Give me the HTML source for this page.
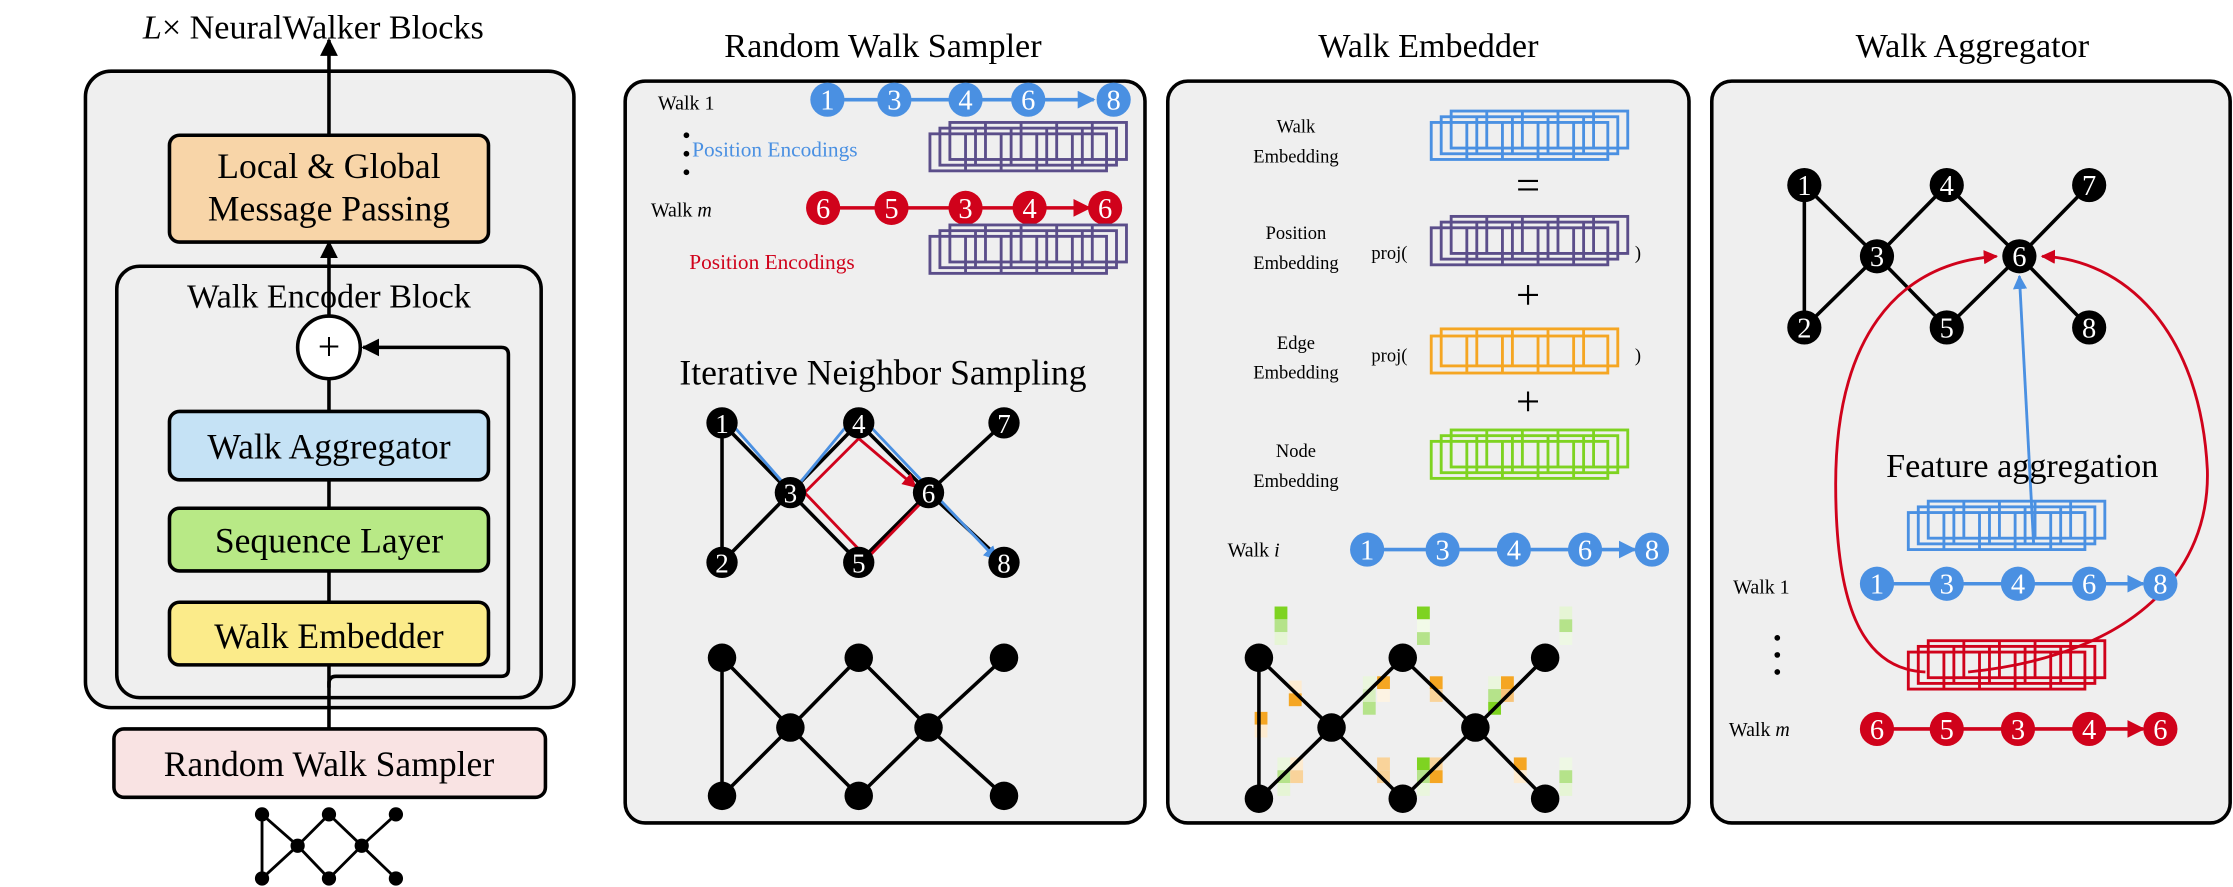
<!DOCTYPE html>
<html><head><meta charset="utf-8"><style>
html,body{margin:0;padding:0;background:#fff}
svg{display:block}
text{font-family:"Liberation Serif",serif}
</style></head><body>
<svg width="2233" height="887" viewBox="0 0 1568 623" preserveAspectRatio="none" xmlns="http://www.w3.org/2000/svg">
<defs>
<g id="cells" fill="none" stroke-width="2">
<rect x="0" y="0" width="124" height="26"/>
<line x1="25" y1="0" x2="25" y2="26"/><line x1="50" y1="0" x2="50" y2="26"/><line x1="75" y1="0" x2="75" y2="26"/><line x1="100" y1="0" x2="100" y2="26"/>
</g>
<g id="stk"><use href="#cells" x="14" y="0"/><use href="#cells" x="7" y="4"/><use href="#cells" x="0" y="8"/></g>
<marker id="ab" viewBox="0 0 10 10" refX="9" refY="5" markerWidth="5" markerHeight="5" orient="auto"><path d="M0,0L10,5L0,10z" fill="#000"/></marker>
<marker id="abl" viewBox="0 0 10 10" refX="9" refY="5" markerWidth="5" markerHeight="5" orient="auto"><path d="M0,0L10,5L0,10z" fill="#4a90e2"/></marker>
<marker id="ar" viewBox="0 0 10 10" refX="9" refY="5" markerWidth="5" markerHeight="5" orient="auto"><path d="M0,0L10,5L0,10z" fill="#d0021b"/></marker>
</defs>

<!-- LEFT PANEL -->
<text x="220" y="27" font-size="24" text-anchor="middle"><tspan font-style="italic">L</tspan>× NeuralWalker Blocks</text>
<rect x="60" y="50" width="343" height="447" rx="18" fill="#efefef" stroke="#000" stroke-width="2.5"/>
<line x1="231" y1="95" x2="231" y2="28" stroke="#000" stroke-width="2.5" marker-end="url(#ab)"/>
<rect x="82" y="187" width="298" height="303" rx="16" fill="#efefef" stroke="#000" stroke-width="2.5"/>
<text x="231" y="216" font-size="24" text-anchor="middle">Walk Encoder Block</text>
<line x1="231" y1="187" x2="231" y2="170" stroke="#000" stroke-width="2.5" marker-end="url(#ab)"/>
<line x1="231" y1="187" x2="231" y2="222" stroke="#000" stroke-width="2.5"/>
<rect x="119" y="95" width="224" height="75" rx="7" fill="#f8d5a8" stroke="#000" stroke-width="2.5"/>
<text x="231" y="125" font-size="25" text-anchor="middle">Local &amp; Global</text>
<text x="231" y="155" font-size="25" text-anchor="middle">Message Passing</text>
<line x1="231" y1="266" x2="231" y2="512" stroke="#000" stroke-width="2.5"/>
<path d="M231,483 L231,480 Q231,475 236,475 L352,475 Q357,475 357,470 L357,249 Q357,244 352,244 L255,244" fill="none" stroke="#000" stroke-width="2.5" marker-end="url(#ab)"/>
<circle cx="231" cy="244" r="22" fill="#fff" stroke="#000" stroke-width="2.5"/>
<text x="231" y="253" font-size="28" text-anchor="middle">+</text>
<rect x="119" y="289" width="224" height="48" rx="7" fill="#c5e2f5" stroke="#000" stroke-width="2.5"/>
<text x="231" y="322" font-size="25" text-anchor="middle">Walk Aggregator</text>
<rect x="119" y="357" width="224" height="44" rx="7" fill="#b8e986" stroke="#000" stroke-width="2.5"/>
<text x="231" y="388" font-size="25" text-anchor="middle">Sequence Layer</text>
<rect x="119" y="423" width="224" height="44" rx="7" fill="#fbeb8a" stroke="#000" stroke-width="2.5"/>
<text x="231" y="455" font-size="25" text-anchor="middle">Walk Embedder</text>
<rect x="80" y="512" width="303" height="48" rx="7" fill="#f9e3e3" stroke="#000" stroke-width="2.5"/>
<text x="231" y="545" font-size="25" text-anchor="middle">Random Walk Sampler</text>
<g stroke="#000" stroke-width="2">
<line x1="184" y1="572" x2="184" y2="617"/><line x1="184" y1="572" x2="209" y2="594"/><line x1="209" y1="594" x2="231" y2="572"/><line x1="231" y1="572" x2="254" y2="594"/><line x1="254" y1="594" x2="278" y2="572"/>
<line x1="184" y1="617" x2="209" y2="594"/><line x1="209" y1="594" x2="231" y2="617"/><line x1="231" y1="617" x2="254" y2="594"/><line x1="254" y1="594" x2="278" y2="617"/>
</g>
<g fill="#000"><circle cx="184" cy="572" r="5"/><circle cx="231" cy="572" r="5"/><circle cx="278" cy="572" r="5"/><circle cx="209" cy="594" r="5"/><circle cx="254" cy="594" r="5"/><circle cx="184" cy="617" r="5"/><circle cx="231" cy="617" r="5"/><circle cx="278" cy="617" r="5"/></g>

<!-- PANEL 2 -->
<text x="620" y="40" font-size="24" text-anchor="middle">Random Walk Sampler</text>
<rect x="439" y="57" width="365" height="521" rx="14" fill="#efefef" stroke="#000" stroke-width="2.5"/>
<text x="462" y="77" font-size="14">Walk 1</text>
<g stroke="#4a90e2" stroke-width="2.5"><line x1="581" y1="70" x2="768" y2="70" marker-end="url(#abl)"/></g>
<g fill="#4a90e2"><circle cx="581" cy="70" r="12"/><circle cx="628" cy="70" r="12"/><circle cx="678" cy="70" r="12"/><circle cx="722" cy="70" r="12"/><circle cx="782" cy="70" r="12"/></g>
<g fill="#fff" font-size="20" text-anchor="middle"><text x="581" y="77">1</text><text x="628" y="77">3</text><text x="678" y="77">4</text><text x="722" y="77">6</text><text x="782" y="77">8</text></g>
<g fill="#000"><circle cx="482" cy="95" r="2"/><circle cx="482" cy="108" r="2"/><circle cx="482" cy="121" r="2"/></g>
<text x="486" y="110" font-size="15" fill="#4a90e2">Position Encodings</text>
<use href="#stk" x="653" y="86" stroke="#5b4e8a"/>
<text x="457" y="152" font-size="14">Walk <tspan font-style="italic">m</tspan></text>
<line x1="578" y1="146" x2="765" y2="146" stroke="#d0021b" stroke-width="2.5" marker-end="url(#ar)"/>
<g fill="#d0021b"><circle cx="578" cy="146" r="12"/><circle cx="626" cy="146" r="12"/><circle cx="678" cy="146" r="12"/><circle cx="723" cy="146" r="12"/><circle cx="776" cy="146" r="12"/></g>
<g fill="#fff" font-size="20" text-anchor="middle"><text x="578" y="153">6</text><text x="626" y="153">5</text><text x="678" y="153">3</text><text x="723" y="153">4</text><text x="776" y="153">6</text></g>
<text x="484" y="189" font-size="15" fill="#d0021b">Position Encodings</text>
<use href="#stk" x="653" y="158" stroke="#5b4e8a"/>
<text x="620" y="270" font-size="25" text-anchor="middle">Iterative Neighbor Sampling</text>
<g stroke="#000" stroke-width="2.5">
<line x1="507" y1="297" x2="507" y2="395"/><line x1="507" y1="297" x2="555" y2="346"/><line x1="555" y1="346" x2="603" y2="297"/><line x1="603" y1="297" x2="652" y2="346"/><line x1="652" y1="346" x2="705" y2="297"/>
<line x1="507" y1="395" x2="555" y2="346"/><line x1="555" y1="346" x2="603" y2="395"/><line x1="603" y1="395" x2="652" y2="346"/><line x1="652" y1="346" x2="705" y2="395"/>
</g>
<path d="M507,290 L556,346 L602,290 L700,393" fill="none" stroke="#4a90e2" stroke-width="2" marker-end="url(#abl)"/>
<path d="M565,346 L603,308 M565,346 L609,392 L648,352" fill="none" stroke="#d0021b" stroke-width="2"/>
<line x1="603" y1="308" x2="643" y2="342" stroke="#d0021b" stroke-width="2" marker-end="url(#ar)"/>
<g fill="#000"><circle cx="507" cy="297" r="11"/><circle cx="603" cy="297" r="11"/><circle cx="705" cy="297" r="11"/><circle cx="555" cy="346" r="11"/><circle cx="652" cy="346" r="11"/><circle cx="507" cy="395" r="11"/><circle cx="603" cy="395" r="11"/><circle cx="705" cy="395" r="11"/></g>
<g fill="#fff" font-size="19" text-anchor="middle"><text x="507" y="304">1</text><text x="603" y="304">4</text><text x="705" y="304">7</text><text x="555" y="353">3</text><text x="652" y="353">6</text><text x="507" y="402">2</text><text x="603" y="402">5</text><text x="705" y="402">8</text></g>
<g stroke="#000" stroke-width="2.5">
<line x1="507" y1="462" x2="507" y2="559"/><line x1="507" y1="462" x2="555" y2="511"/><line x1="555" y1="511" x2="603" y2="462"/><line x1="603" y1="462" x2="652" y2="511"/><line x1="652" y1="511" x2="705" y2="462"/>
<line x1="507" y1="559" x2="555" y2="511"/><line x1="555" y1="511" x2="603" y2="559"/><line x1="603" y1="559" x2="652" y2="511"/><line x1="652" y1="511" x2="705" y2="559"/>
</g>
<g fill="#000"><circle cx="507" cy="462" r="10"/><circle cx="603" cy="462" r="10"/><circle cx="705" cy="462" r="10"/><circle cx="555" cy="511" r="10"/><circle cx="652" cy="511" r="10"/><circle cx="507" cy="559" r="10"/><circle cx="603" cy="559" r="10"/><circle cx="705" cy="559" r="10"/></g>

<!-- PANEL 3 -->
<text x="1003" y="40" font-size="24" text-anchor="middle">Walk Embedder</text>
<rect x="820" y="57" width="366" height="521" rx="14" fill="#efefef" stroke="#000" stroke-width="2.5"/>
<g font-size="13" text-anchor="middle">
<text x="910" y="93">Walk</text><text x="910" y="114">Embedding</text>
<text x="910" y="168">Position</text><text x="910" y="189">Embedding</text>
<text x="910" y="245">Edge</text><text x="910" y="266">Embedding</text>
<text x="910" y="321">Node</text><text x="910" y="342">Embedding</text>
</g>
<g font-size="13"><text x="963" y="182">proj(</text><text x="1148" y="182">)</text><text x="963" y="254">proj(</text><text x="1148" y="254">)</text></g>
<g font-size="30" text-anchor="middle"><text x="1073" y="140">=</text><text x="1073" y="217">+</text><text x="1073" y="292">+</text></g>
<use href="#stk" x="1005" y="78" stroke="#4a90e2"/>
<use href="#stk" x="1005" y="152" stroke="#5b4e8a"/>
<g stroke="#f5a623"><use href="#cells" x="1012" y="231"/><use href="#cells" x="1005" y="236"/></g>
<use href="#stk" x="1005" y="302" stroke="#7ed321"/>
<text x="862" y="391" font-size="14">Walk <tspan font-style="italic">i</tspan></text>
<line x1="960" y1="386" x2="1148" y2="386" stroke="#4a90e2" stroke-width="2.5" marker-end="url(#abl)"/>
<g fill="#4a90e2"><circle cx="960" cy="386" r="12"/><circle cx="1013" cy="386" r="12"/><circle cx="1063" cy="386" r="12"/><circle cx="1113" cy="386" r="12"/><circle cx="1160" cy="386" r="12"/></g>
<g fill="#fff" font-size="20" text-anchor="middle"><text x="960" y="393">1</text><text x="1013" y="393">3</text><text x="1063" y="393">4</text><text x="1113" y="393">6</text><text x="1160" y="393">8</text></g>
<g>
<rect x="895" y="426" width="9" height="9" fill="#7ed321"/><rect x="895" y="435" width="9" height="9" fill="#b5e38a"/><rect x="895" y="444" width="9" height="9" fill="#e6f5d5"/>
<rect x="995" y="426" width="9" height="9" fill="#7ed321"/><rect x="995" y="435" width="9" height="9" fill="#f2fae8"/><rect x="995" y="444" width="9" height="9" fill="#b5e38a"/>
<rect x="1095" y="426" width="9" height="9" fill="#e6f5d5"/><rect x="1095" y="435" width="9" height="9" fill="#b5e38a"/><rect x="1095" y="444" width="9" height="9" fill="#eef8e4"/>
<rect x="905" y="478" width="9" height="9" fill="#fdebd0"/><rect x="905" y="487" width="9" height="9" fill="#f5a623"/>
<rect x="881" y="500" width="9" height="9" fill="#f5a623"/><rect x="881" y="509" width="9" height="9" fill="#fdebd0"/>
<rect x="957" y="475" width="9" height="9" fill="#eaf6dd"/><rect x="957" y="484" width="9" height="9" fill="#d8efbf"/><rect x="957" y="493" width="9" height="9" fill="#b5e38a"/>
<rect x="967" y="475" width="9" height="9" fill="#f5a623"/><rect x="967" y="484" width="9" height="9" fill="#fdf3e3"/>
<rect x="1004" y="475" width="9" height="9" fill="#f5a623"/><rect x="1004" y="484" width="9" height="9" fill="#f9d39a"/>
<rect x="1045" y="475" width="9" height="9" fill="#eaf6dd"/><rect x="1045" y="484" width="9" height="9" fill="#b5e38a"/><rect x="1045" y="493" width="9" height="9" fill="#7ed321"/>
<rect x="1054" y="475" width="9" height="9" fill="#f5a623"/><rect x="1054" y="484" width="9" height="9" fill="#f7c47a"/>
<rect x="897" y="532" width="9" height="9" fill="#eaf6dd"/><rect x="897" y="541" width="9" height="9" fill="#b5e38a"/><rect x="897" y="550" width="9" height="9" fill="#e6f5d5"/>
<rect x="906" y="532" width="9" height="9" fill="#fdebd0"/><rect x="906" y="541" width="9" height="9" fill="#f9d39a"/>
<rect x="967" y="532" width="9" height="9" fill="#f9d39a"/><rect x="967" y="541" width="9" height="9" fill="#f9d39a"/>
<rect x="995" y="532" width="9" height="9" fill="#7ed321"/><rect x="995" y="541" width="9" height="9" fill="#b5e38a"/><rect x="995" y="550" width="9" height="9" fill="#eaf6dd"/>
<rect x="1004" y="532" width="9" height="9" fill="#f9d39a"/><rect x="1004" y="541" width="9" height="9" fill="#f5a623"/>
<rect x="1063" y="532" width="9" height="9" fill="#f5a623"/><rect x="1063" y="541" width="9" height="9" fill="#fdebd0"/>
<rect x="1095" y="532" width="9" height="9" fill="#eef8e4"/><rect x="1095" y="541" width="9" height="9" fill="#b5e38a"/><rect x="1095" y="550" width="9" height="9" fill="#e6f5d5"/>
</g>
<g stroke="#000" stroke-width="2.5">
<line x1="884" y1="462" x2="884" y2="561"/><line x1="884" y1="462" x2="935" y2="511"/><line x1="935" y1="511" x2="985" y2="462"/><line x1="985" y1="462" x2="1036" y2="511"/><line x1="1036" y1="511" x2="1085" y2="462"/>
<line x1="884" y1="561" x2="935" y2="511"/><line x1="935" y1="511" x2="985" y2="561"/><line x1="985" y1="561" x2="1036" y2="511"/><line x1="1036" y1="511" x2="1085" y2="561"/>
</g>
<g fill="#000"><circle cx="884" cy="462" r="10"/><circle cx="985" cy="462" r="10"/><circle cx="1085" cy="462" r="10"/><circle cx="935" cy="511" r="10"/><circle cx="1036" cy="511" r="10"/><circle cx="884" cy="561" r="10"/><circle cx="985" cy="561" r="10"/><circle cx="1085" cy="561" r="10"/></g>

<!-- PANEL 4 -->
<text x="1385" y="40" font-size="24" text-anchor="middle">Walk Aggregator</text>
<rect x="1202" y="57" width="364" height="521" rx="14" fill="#efefef" stroke="#000" stroke-width="2.5"/>
<g stroke="#000" stroke-width="2.5">
<line x1="1267" y1="130" x2="1267" y2="230"/><line x1="1267" y1="130" x2="1318" y2="180"/><line x1="1318" y1="180" x2="1367" y2="130"/><line x1="1367" y1="130" x2="1418" y2="180"/><line x1="1418" y1="180" x2="1467" y2="130"/>
<line x1="1267" y1="230" x2="1318" y2="180"/><line x1="1318" y1="180" x2="1367" y2="230"/><line x1="1367" y1="230" x2="1418" y2="180"/>
<line x1="1418" y1="180" x2="1467" y2="230"/>
</g>
<path d="M1352,472 C1305,470 1289,420 1289,340 C1289,240 1330,185 1402,180" fill="none" stroke="#d0021b" stroke-width="2" marker-end="url(#ar)"/>
<path d="M1382,472 C1500,460 1552,400 1550,330 C1545,230 1490,182 1434,180" fill="none" stroke="#d0021b" stroke-width="2" marker-end="url(#ar)"/>
<line x1="1428" y1="382" x2="1418" y2="194" stroke="#4a90e2" stroke-width="2" marker-end="url(#abl)"/>
<g fill="#000"><circle cx="1267" cy="130" r="12"/><circle cx="1367" cy="130" r="12"/><circle cx="1467" cy="130" r="12"/><circle cx="1318" cy="180" r="12"/><circle cx="1418" cy="180" r="12"/><circle cx="1267" cy="230" r="12"/><circle cx="1367" cy="230" r="12"/><circle cx="1467" cy="230" r="12"/></g>
<g fill="#fff" font-size="20" text-anchor="middle"><text x="1267" y="137">1</text><text x="1367" y="137">4</text><text x="1467" y="137">7</text><text x="1318" y="187">3</text><text x="1418" y="187">6</text><text x="1267" y="237">2</text><text x="1367" y="237">5</text><text x="1467" y="237">8</text></g>
<text x="1420" y="335" font-size="24" text-anchor="middle">Feature aggregation</text>
<use href="#stk" x="1340" y="352" stroke="#4a90e2"/>
<text x="1217" y="417" font-size="14">Walk 1</text>
<line x1="1318" y1="410" x2="1505" y2="410" stroke="#4a90e2" stroke-width="2.5" marker-end="url(#abl)"/>
<g fill="#4a90e2"><circle cx="1318" cy="410" r="12"/><circle cx="1367" cy="410" r="12"/><circle cx="1417" cy="410" r="12"/><circle cx="1467" cy="410" r="12"/><circle cx="1517" cy="410" r="12"/></g>
<g fill="#fff" font-size="20" text-anchor="middle"><text x="1318" y="417">1</text><text x="1367" y="417">3</text><text x="1417" y="417">4</text><text x="1467" y="417">6</text><text x="1517" y="417">8</text></g>
<g fill="#000"><circle cx="1248" cy="448" r="2"/><circle cx="1248" cy="460" r="2"/><circle cx="1248" cy="472" r="2"/></g>
<use href="#stk" x="1340" y="450" stroke="#d0021b"/>
<text x="1214" y="517" font-size="14">Walk <tspan font-style="italic">m</tspan></text>
<line x1="1318" y1="512" x2="1505" y2="512" stroke="#d0021b" stroke-width="2.5" marker-end="url(#ar)"/>
<g fill="#d0021b"><circle cx="1318" cy="512" r="12"/><circle cx="1367" cy="512" r="12"/><circle cx="1417" cy="512" r="12"/><circle cx="1467" cy="512" r="12"/><circle cx="1517" cy="512" r="12"/></g>
<g fill="#fff" font-size="20" text-anchor="middle"><text x="1318" y="519">6</text><text x="1367" y="519">5</text><text x="1417" y="519">3</text><text x="1467" y="519">4</text><text x="1517" y="519">6</text></g>
</svg>
</body></html>
